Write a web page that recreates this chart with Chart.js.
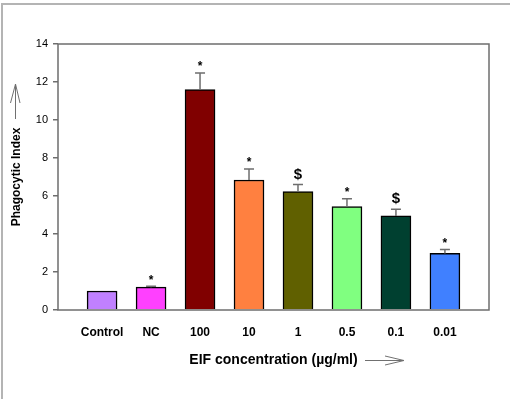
<!DOCTYPE html>
<html>
<head>
<meta charset="utf-8">
<script src="https://cdn.jsdelivr.net/npm/chart.js@4/dist/chart.umd.min.js"></script>
<style>
  body { margin: 0; background: #fff; }
  #wrap { position: relative; width: 510px; height: 399px; }
  #frame { position: absolute; left: 1px; top: 3px; right: 0; bottom: 0; border-top: 2px solid #b4b4b4; border-left: 2px solid #b4b4b4; pointer-events: none; }
</style>
</head>
<body>
<div id="wrap">
  <canvas id="myChart" width="510" height="399"></canvas>
  <div id="frame"></div>
</div>
<script>
// data
var categories = ['Control', 'NC', '100', '10', '1', '0.5', '0.1', '0.01'];
var phagocyticIndex = [1.0, 1.2, 11.6, 6.84, 6.23, 5.44, 4.95, 2.98];
var errors = [0, 0.05, 0.88, 0.58, 0.38, 0.42, 0.35, 0.21];
var marks = ['', '*', '*', '*', '$', '*', '$', '*'];
var barColors = ['#c080ff', '#ff40ff', '#800000', '#ff8040', '#606000', '#80ff80', '#004030', '#4080ff'];
var yTicks = [0, 2, 4, 6, 8, 10, 12, 14];

var axisColor = '#6e6e6e';

// error bars, significance marks, plot box and axis arrows
var extras = {
    id: 'extras',
    afterDatasetsDraw: function (chart) {
        var ctx = chart.ctx;
        var x = chart.scales.x, y = chart.scales.y;
        var area = chart.chartArea;

        ctx.save();
        ctx.strokeStyle = axisColor;
        ctx.lineWidth = 1.5;
        for (var i = 0; i < categories.length; i++) {
            if (!errors[i]) continue;
            var cx = x.getPixelForValue(i);
            var top = y.getPixelForValue(phagocyticIndex[i]);
            var cap = y.getPixelForValue(phagocyticIndex[i] + errors[i]);
            ctx.beginPath();
            ctx.moveTo(cx, top);
            ctx.lineTo(cx, cap);
            ctx.moveTo(cx - 5, cap);
            ctx.lineTo(cx + 5, cap);
            ctx.stroke();
        }

        ctx.fillStyle = '#000';
        ctx.textAlign = 'center';
        ctx.textBaseline = 'middle';
        for (i = 0; i < categories.length; i++) {
            if (!marks[i]) continue;
            var cx2 = x.getPixelForValue(i);
            var capY = y.getPixelForValue(phagocyticIndex[i] + errors[i]);
            if (marks[i] == '$') {
                ctx.font = 'bold 15px "Liberation Sans", Arial, sans-serif';
                ctx.fillText('$', cx2, capY - 10);
            } else {
                ctx.font = 'bold 12px "Liberation Sans", Arial, sans-serif';
                ctx.fillText('*', cx2, capY - 6);
            }
        }

        // box around plot
        ctx.strokeStyle = axisColor;
        ctx.lineWidth = 1.5;
        ctx.strokeRect(area.left, area.top, area.right - area.left, area.bottom - area.top);

        // arrows next to axis titles
        ctx.strokeStyle = '#707070';
        ctx.lineWidth = 1;
        ctx.beginPath();
        ctx.moveTo(15.5, 119);
        ctx.lineTo(15.5, 84);
        ctx.moveTo(10.5, 103);
        ctx.lineTo(15.5, 84);
        ctx.lineTo(20, 103);
        ctx.moveTo(365, 360.5);
        ctx.lineTo(404, 360.5);
        ctx.moveTo(385, 356);
        ctx.lineTo(404, 360.5);
        ctx.lineTo(385, 365);
        ctx.stroke();
        ctx.restore();
    }
};

var points = [];
for (var i = 0; i < categories.length; i++) {
    points.push({ x: i, y: phagocyticIndex[i] });
}

var ctx = document.getElementById('myChart').getContext('2d');
var chart = new Chart(ctx, {
    type: 'bar',
    data: {
        datasets: [{
            data: points,
            backgroundColor: barColors,
            borderColor: '#000',
            borderWidth: 1.5,
            barThickness: 30
        }]
    },
    options: {
        responsive: false,
        animation: false,
        layout: { padding: { left: 0, top: 44, right: 21, bottom: 0 } },
        plugins: { legend: { display: false }, tooltip: { enabled: false } },
        scales: {
            x: {
                type: 'linear',
                offset: false,
                min: -0.9,
                max: 7.9,
                afterFit: function (scale) { scale.height = 89; },
                afterBuildTicks: function (scale) {
                    scale.ticks = categories.map(function (c, i) { return { value: i }; });
                },
                ticks: {
                    autoSkip: false,
                    maxRotation: 0,
                    padding: 7,
                    color: '#000',
                    font: { family: '"Liberation Sans", Arial, sans-serif', size: 12, weight: 'bold' },
                    callback: function (v) { return categories[v]; }
                },
                grid: { display: false },
                border: { display: false },
                title: {
                    display: true,
                    text: 'EIF concentration (\u00b5g/ml)',
                    color: '#000',
                    font: { family: '"Liberation Sans", Arial, sans-serif', size: 14, weight: 'bold' },
                    padding: { top: 0, bottom: 30 }
                }
            },
            y: {
                min: 0,
                max: 14,
                afterFit: function (scale) { scale.width = 58; },
                afterBuildTicks: function (scale) {
                    scale.ticks = yTicks.map(function (v) { return { value: v }; });
                },
                ticks: {
                    padding: 5,
                    color: '#000',
                    font: { family: '"Liberation Sans", Arial, sans-serif', size: 11 }
                },
                grid: { drawOnChartArea: false, drawTicks: true, tickLength: 5, color: axisColor, lineWidth: 1.5 },
                border: { display: false },
                title: {
                    display: true,
                    text: 'Phagocytic Index',
                    color: '#000',
                    font: { family: '"Liberation Sans", Arial, sans-serif', size: 12, weight: 'bold' },
                    padding: { top: 9, bottom: 0 }
                }
            }
        }
    },
    plugins: [extras]
});
</script>
</body>
</html>
